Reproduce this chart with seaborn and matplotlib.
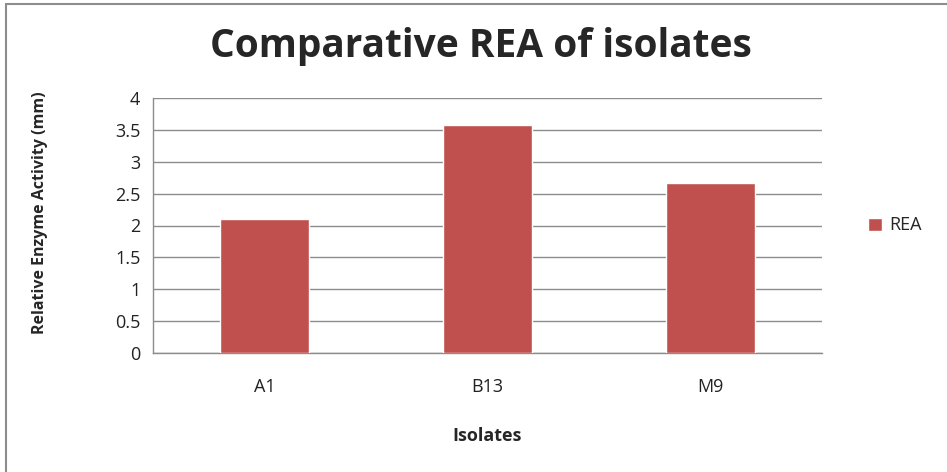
import numpy as np
import pandas as pd
import seaborn as sns
import matplotlib.pyplot as plt
from matplotlib.patches import Rectangle

isolates = ['A1', 'B13', 'M9']
rea = [2.1, 3.57, 2.67]
y_ticks = [0, 0.5, 1, 1.5, 2, 2.5, 3, 3.5, 4]

sns.set_style('white')
plt.rcParams['font.family'] = ['Open Sans', 'DejaVu Sans']

df = pd.DataFrame({'Isolates': isolates, 'REA': rea})

fig = plt.figure(figsize=(9.47, 4.72), dpi=100)
ax = fig.add_axes([153 / 947, 1 - 353 / 472, 669 / 947, 255 / 472])

sns.barplot(data=df, x='Isolates', y='REA', color='#C0504D', width=0.4,
            saturation=1, label='REA', ax=ax, zorder=3)

ax.set_ylim(0, 4)
ax.set_xlim(-0.5, 2.5)
ax.set_yticks(y_ticks)
ax.set_yticklabels(['0', '0.5', '1', '1.5', '2', '2.5', '3', '3.5', '4'])
ax.yaxis.grid(True, color='#8c8c8c', linewidth=1)
ax.set_axisbelow(True)

# category boundary ticks like Excel
ax.set_xticks([-0.5, 0.5, 1.5, 2.5], minor=True)
ax.tick_params(axis='x', which='minor', length=6, color='#8c8c8c', width=1, direction='out')
ax.tick_params(axis='x', which='major', length=0, pad=18, labelsize=13, labelcolor='#222222')
ax.tick_params(axis='y', length=5, color='#8c8c8c', width=1, direction='out', labelsize=13,
               labelcolor='#222222', pad=4)

for s in ['top', 'right']:
    ax.spines[s].set_visible(False)
for s in ['left', 'bottom']:
    ax.spines[s].set_color('#8c8c8c')
    ax.spines[s].set_linewidth(1)

ax.set_xlabel('Isolates', fontsize=13, fontweight='bold', labelpad=22)
ax.set_ylabel('Relative Enzyme Activity (mm)', fontsize=11.5, fontweight='bold')
ax.yaxis.set_label_coords(-0.157, 0.55)

fig.text(481 / 947, 1 - 47 / 472, 'Comparative REA of isolates', ha='center', va='center',
         fontsize=28, fontweight='bold')

ax.legend(loc='center left', bbox_to_anchor=(1.045, 0.5), frameon=False, fontsize=13,
          handlelength=0.75, handleheight=0.7, handletextpad=0.4)

fig.patches.append(Rectangle((6 / 947, -0.1), 1.1, 1 - 4 / 472 + 0.1, transform=fig.transFigure,
                             fill=False, edgecolor='#8c8c8c', linewidth=1.5))

fig.savefig('out.png', dpi=100)
